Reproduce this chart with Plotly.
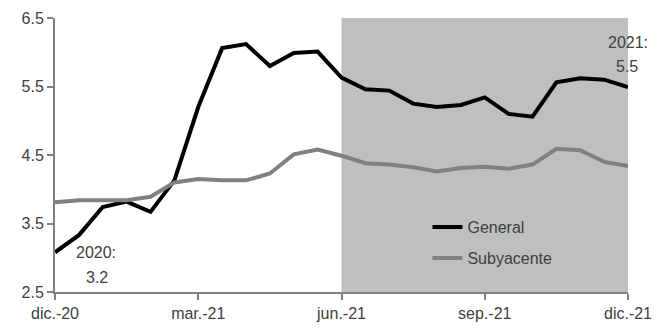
import plotly.graph_objects as go

tick_labels = ["dic.-20", "mar.-21", "jun.-21", "sep.-21", "dic.-21"]
general = [3.08, 3.33, 3.74, 3.82, 3.67, 4.13, 5.20, 6.06, 6.12, 5.80, 5.99, 6.01,
           5.63, 5.46, 5.44, 5.25, 5.20, 5.23, 5.34, 5.10, 5.06, 5.56, 5.62, 5.60, 5.49]
subyacente = [3.81, 3.84, 3.84, 3.84, 3.89, 4.10, 4.15, 4.13, 4.13, 4.23, 4.51, 4.58,
              4.49, 4.38, 4.36, 4.32, 4.26, 4.31, 4.33, 4.30, 4.36, 4.59, 4.57, 4.40, 4.34]
x = list(range(len(general)))
tick_pos = [0, 6, 12, 18, 24]
shade_start, shade_end = 12, 24

FONT = "Liberation Sans"
TXT = "#404040"
AX = "#808080"
FS = 16

fig = go.Figure()
fig.add_trace(go.Scatter(x=x, y=general, mode="lines", name="General",
                         line=dict(color="black", width=4), legendgroup="a"))
fig.add_trace(go.Scatter(x=x, y=subyacente, mode="lines", name="Subyacente",
                         line=dict(color="#808080", width=4), legendgroup="b"))

fig.add_shape(type="rect", xref="x", yref="y", x0=shade_start, x1=shade_end,
              y0=2.5, y1=6.5, fillcolor="#bfbfbf", line=dict(width=0), layer="below")

for txt, xv, yv in [("2020:", 1.72, 3.07), ("3.2", 1.75, 2.71),
                    ("2021:", 24.0, 6.14), ("5.5", 23.95, 5.79)]:
    fig.add_annotation(x=xv, y=yv, xref="x", yref="y", text=txt, showarrow=False,
                       font=dict(family=FONT, size=FS, color=TXT))

fig.update_layout(
    width=656, height=330, margin=dict(l=55, r=28, t=18, b=38),
    paper_bgcolor="white", plot_bgcolor="white",
    font=dict(family=FONT, size=FS, color=TXT),
    showlegend=True,
    legend=dict(x=0.65, y=0.18, xanchor="left", yanchor="middle",
                bgcolor="rgba(0,0,0,0)", font=dict(family=FONT, size=FS, color=TXT),
                tracegroupgap=7, traceorder="grouped"),
    xaxis=dict(range=[0, 24], tickvals=tick_pos, ticktext=tick_labels, automargin=False,
               showgrid=False, zeroline=False, showline=True, linecolor=AX, linewidth=2,
               ticks="outside", ticklen=6, tickcolor=AX, tickwidth=2),
    yaxis=dict(range=[2.5, 6.5], tickvals=[2.5, 3.5, 4.5, 5.5, 6.5], automargin=False,
               ticktext=["2.5", "3.5", "4.5", "5.5", "6.5"],
               showgrid=False, zeroline=False, showline=True, linecolor=AX, linewidth=2,
               ticks="outside", ticklen=6, tickcolor=AX, tickwidth=2),
)

fig.write_html("out.html")
